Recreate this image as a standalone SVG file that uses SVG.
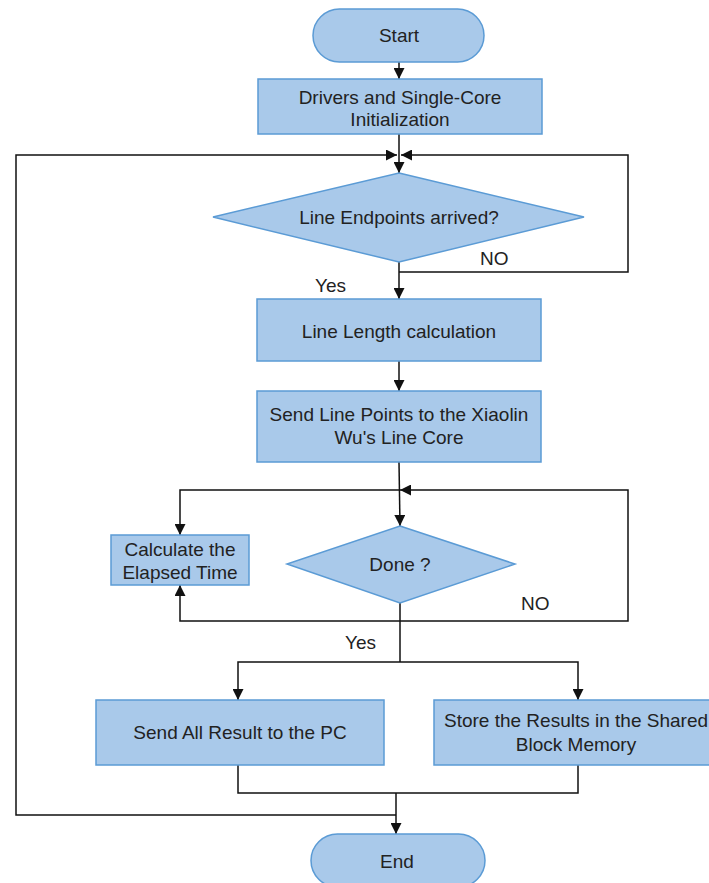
<svg xmlns="http://www.w3.org/2000/svg" width="709" height="883" viewBox="0 0 709 883">
  <defs>
    <marker id="arrow" viewBox="0 0 10 10" refX="10" refY="5" markerWidth="11" markerHeight="11" markerUnits="userSpaceOnUse" orient="auto">
      <path d="M0,0 L10,5 L0,10 z" fill="#111"/>
    </marker>
  </defs>
  <style>
    .shape { fill: #a9c9ea; stroke: #5b9bd5; stroke-width: 1.5; }
    .label { font-family: "Liberation Sans", Arial, sans-serif; font-size: 19px; fill: #222; text-anchor: middle; }
    .tag { font-family: "Liberation Sans", Arial, sans-serif; font-size: 19px; fill: #222; }
    .wire { fill: none; stroke: #111; stroke-width: 1.5; }
    .arrow { marker-end: url(#arrow); }
  </style>
  <rect width="709" height="883" fill="#ffffff"/>

  <!-- connectors -->
  <g id="connectors">
    <line class="wire arrow" x1="399" y1="62" x2="399" y2="79"/>
    <line class="wire arrow" x1="399" y1="134" x2="399" y2="173"/>
    <!-- return from end of cycle -->
    <polyline class="wire arrow" points="396,815 16,815 16,155 397,155"/>
    <!-- NO loop of first decision -->
    <polyline class="wire arrow" points="399,272 628,272 628,155 401,155"/>
    <line class="wire arrow" x1="399" y1="262" x2="399" y2="299"/>
    <line class="wire arrow" x1="399" y1="361" x2="399" y2="391"/>
    <line class="wire arrow" x1="399" y1="462" x2="400" y2="526"/>
    <!-- timer branch -->
    <polyline class="wire arrow" points="399,490 180,490 180,535"/>
    <polyline class="wire arrow" points="400,621 180,621 180,585"/>
    <!-- NO loop of second decision -->
    <polyline class="wire arrow" points="400,621 628,621 628,490 400,490"/>
    <line class="wire" x1="400" y1="603" x2="400" y2="662"/>
    <polyline class="wire arrow" points="400,662 238,662 238,700"/>
    <polyline class="wire arrow" points="400,662 578,662 578,700"/>
    <polyline class="wire" points="238,765 238,793 578,793 578,765"/>
    <line class="wire arrow" x1="396" y1="793" x2="396" y2="834"/>
  </g>

  <g id="start">
    <rect class="shape" x="313" y="9" width="171" height="53" rx="26.5"/>
    <text class="label" x="399" y="42">Start</text>
  </g>

  <g id="init">
    <rect class="shape" x="258" y="79" width="284" height="55"/>
    <text class="label" x="400" y="104">Drivers and Single-Core</text>
    <text class="label" x="400" y="126">Initialization</text>
  </g>

  <g id="endpoints">
    <polygon class="shape" points="399,173 584,217 399,262 213,217"/>
    <text class="label" x="399" y="224">Line Endpoints arrived?</text>
    <text class="tag" x="480" y="265">NO</text>
    <text class="tag" x="315" y="292">Yes</text>
  </g>

  <g id="length">
    <rect class="shape" x="257" y="299" width="284" height="62"/>
    <text class="label" x="399" y="338">Line Length calculation</text>
  </g>

  <g id="send-points">
    <rect class="shape" x="257" y="391" width="284" height="71"/>
    <text class="label" x="399" y="421">Send Line Points to the Xiaolin</text>
    <text class="label" x="399" y="444">Wu's Line Core</text>
  </g>

  <g id="elapsed">
    <rect class="shape" x="111" y="535" width="138" height="50"/>
    <text class="label" x="180" y="556">Calculate the</text>
    <text class="label" x="180" y="579">Elapsed Time</text>
  </g>

  <g id="done">
    <polygon class="shape" points="400,526 515,564 400,603 287,564"/>
    <text class="label" x="400" y="571">Done ?</text>
    <text class="tag" x="521" y="610">NO</text>
    <text class="tag" x="345" y="649">Yes</text>
  </g>

  <g id="send-pc">
    <rect class="shape" x="96" y="700" width="288" height="65"/>
    <text class="label" x="240" y="739">Send All Result to the PC</text>
  </g>

  <g id="store">
    <rect class="shape" x="434" y="700" width="284" height="65"/>
    <text class="label" x="576" y="727">Store the Results in the Shared</text>
    <text class="label" x="576" y="751">Block Memory</text>
  </g>

  <g id="end">
    <rect class="shape" x="311" y="834" width="174" height="53" rx="26.5"/>
    <text class="label" x="397" y="868">End</text>
  </g>
</svg>
